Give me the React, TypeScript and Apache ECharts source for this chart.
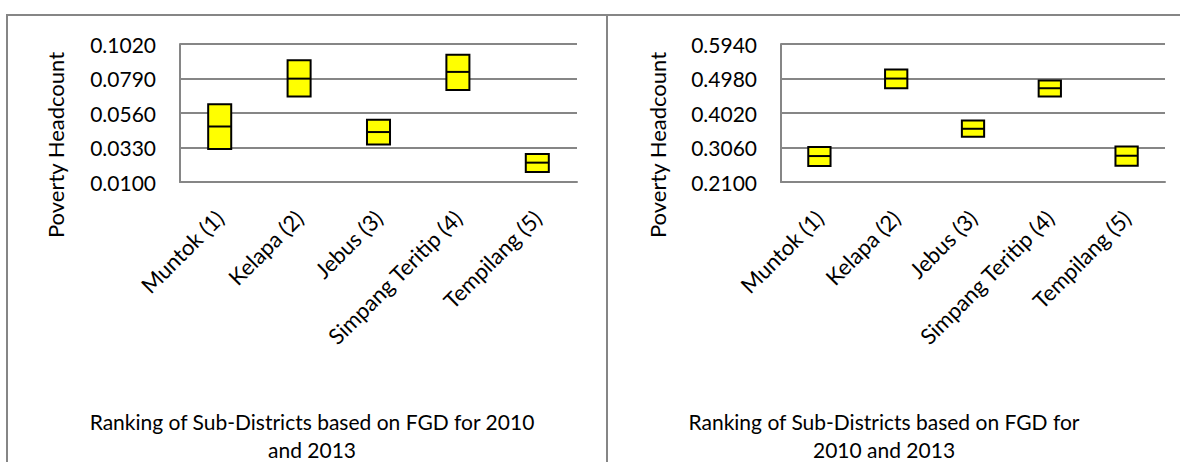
import React, { useEffect, useRef } from "react";
import * as echarts from "echarts";

const categories = ["Muntok (1)", "Kelapa (2)", "Jebus (3)", "Simpang Teritip (4)", "Tempilang (5)"];

// Left chart: lower bound, point value, upper bound
const leftLow = [0.032, 0.067, 0.035, 0.0714, 0.0167];
const leftMid = [0.047, 0.0789, 0.0433, 0.0834, 0.0229];
const leftHigh = [0.0619, 0.0911, 0.0515, 0.0949, 0.0286];

// Right chart: lower bound, point value, upper bound
const rightLow = [0.2544, 0.4709, 0.3358, 0.4478, 0.2553];
const rightMid = [0.2822, 0.4978, 0.3581, 0.4709, 0.2831];
const rightHigh = [0.3072, 0.5228, 0.3812, 0.4922, 0.309];

const leftTicks = [0.01, 0.033, 0.056, 0.079, 0.102];
const rightTicks = [0.21, 0.306, 0.402, 0.498, 0.594];

const yTitle = "Poverty Headcount";
const leftXTitle = ["Ranking of Sub-Districts based on FGD for 2010", "and 2013"];
const rightXTitle = ["Ranking of Sub-Districts based on FGD for", "2010 and 2013"];

const FONT = "Lato, 'Open Sans', sans-serif";
const GRID = "#868686";

function buildData(lo: number[], mid: number[], hi: number[]) {
  return categories.map((_, i) => [i, lo[i], mid[i], hi[i]]);
}

const renderBox = (params: any, api: any) => {
  const x = api.value(0);
  const lo = api.coord([x, api.value(1)]);
  const mid = api.coord([x, api.value(2)]);
  const hi = api.coord([x, api.value(3)]);
  const w = api.size([1, 0])[0] * 0.29;
  return {
    type: "group",
    children: [
      {
        type: "rect",
        shape: { x: lo[0] - w / 2, y: hi[1], width: w, height: lo[1] - hi[1] },
        style: { fill: "#FFFF00", stroke: "#000000", lineWidth: 2 },
      },
      {
        type: "line",
        shape: { x1: lo[0] - w / 2, y1: mid[1], x2: lo[0] + w / 2, y2: mid[1] },
        style: { stroke: "#000000", lineWidth: 2 },
      },
    ],
  };
};

function xAxis(gridIndex: number) {
  return {
    type: "category",
    gridIndex,
    data: categories,
    boundaryGap: true,
    axisLine: { show: true, lineStyle: { color: GRID, width: 2 } },
    axisTick: { show: false },
    axisLabel: {
      rotate: 45,
      interval: 0,
      margin: 32,
      color: "#000",
      fontFamily: FONT,
      fontSize: 22,
    },
    splitLine: { show: false },
  };
}

function yAxis(gridIndex: number, ticks: number[]) {
  return {
    type: "value",
    gridIndex,
    min: ticks[0],
    max: ticks[ticks.length - 1],
    axisLine: { show: true, lineStyle: { color: GRID, width: 2 } },
    axisTick: { show: false, customValues: ticks },
    axisLabel: {
      customValues: ticks,
      margin: 24,
      color: "#000",
      fontFamily: FONT,
      fontSize: 21,
      formatter: (v: number) => v.toFixed(4),
    },
    splitLine: { show: true, lineStyle: { color: GRID, width: 2 } },
  };
}

function titleLines(lines: string[], cx: number) {
  return lines.map((t, i) => ({
    type: "text",
    x: cx,
    y: 421 + i * 28,
    style: {
      text: t,
      align: "center",
      verticalAlign: "middle",
      lineHeight: 20,
      fontFamily: FONT,
      fontSize: 21,
      fill: "#000",
    },
  }));
}

export default function App() {
  const ref = useRef<HTMLDivElement>(null);
  useEffect(() => {
    if (!ref.current) return;
    const chart = echarts.init(ref.current, undefined, { renderer: "svg" });
    chart.setOption({
      animation: false,
      backgroundColor: "#ffffff",
      grid: [
        { left: 180, right: 603, top: 44, bottom: 280 },
        { left: 781, right: 15, top: 44, bottom: 280 },
      ],
      xAxis: [xAxis(0), xAxis(1)],
      yAxis: [yAxis(0, leftTicks), yAxis(1, rightTicks)],
      series: [
        {
          type: "custom",
          xAxisIndex: 0,
          yAxisIndex: 0,
          renderItem: renderBox,
          encode: { x: 0, y: [1, 2, 3] },
          data: buildData(leftLow, leftMid, leftHigh),
          z: 10,
        },
        {
          type: "custom",
          xAxisIndex: 1,
          yAxisIndex: 1,
          renderItem: renderBox,
          encode: { x: 0, y: [1, 2, 3] },
          data: buildData(rightLow, rightMid, rightHigh),
          z: 10,
        },
      ],
      graphic: [
        {
          type: "rect",
          shape: { x: 7, y: 15, width: 600, height: 470 },
          style: { fill: "none", stroke: GRID, lineWidth: 2 },
          silent: true,
        },
        {
          type: "rect",
          shape: { x: 607, y: 15, width: 600, height: 470 },
          style: { fill: "none", stroke: GRID, lineWidth: 2 },
          silent: true,
        },
        {
          type: "text",
          x: 55,
          y: 145,
          rotation: Math.PI / 2,
          style: {
            text: yTitle,
            align: "center",
            verticalAlign: "middle",
            fontFamily: FONT,
            fontSize: 22,
            fill: "#000",
          },
        },
        {
          type: "text",
          x: 657,
          y: 145,
          rotation: Math.PI / 2,
          style: {
            text: yTitle,
            align: "center",
            verticalAlign: "middle",
            fontFamily: FONT,
            fontSize: 22,
            fill: "#000",
          },
        },
        ...titleLines(leftXTitle, 312),
        ...titleLines(rightXTitle, 884),
      ],
    });
    return () => chart.dispose();
  }, []);
  return (
    <div
      ref={ref}
      style={{ position: "fixed", left: 0, top: 0, width: 1180, height: 462, background: "#fff" }}
    />
  );
}
